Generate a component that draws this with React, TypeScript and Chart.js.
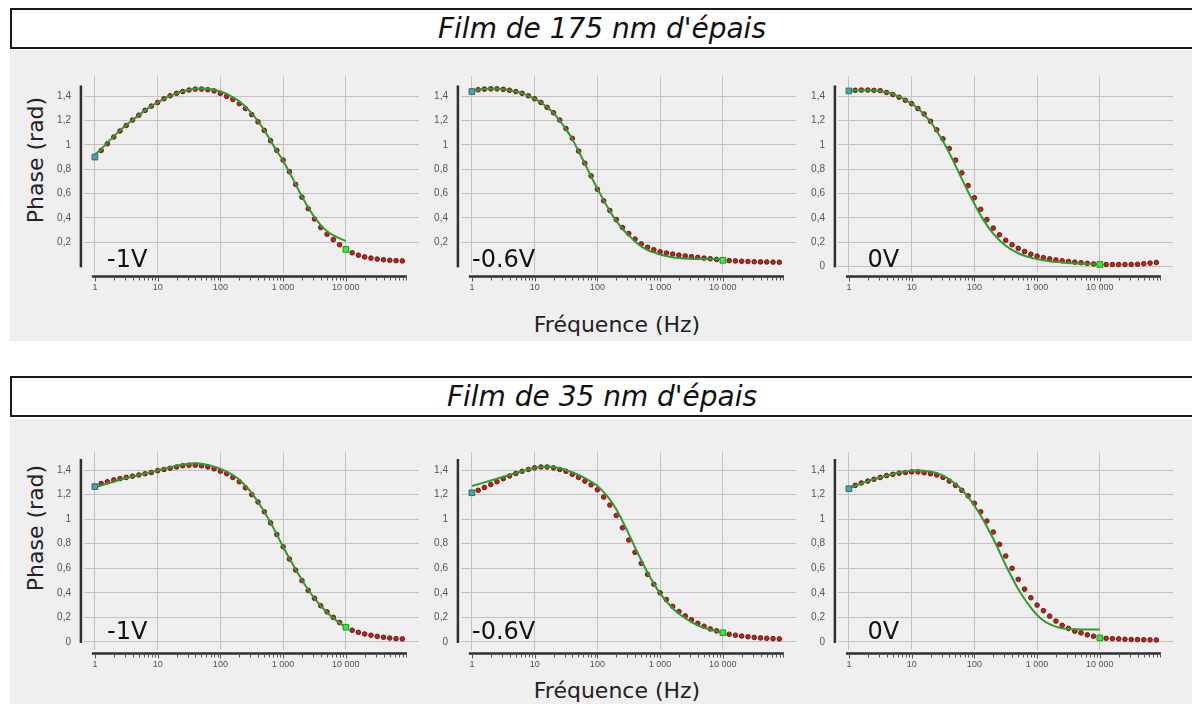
import React, { useEffect, useRef } from "react";
import { Chart, registerables } from "chart.js";

Chart.register(...registerables);

// ---------- data ----------
const FREQ_HZ = [
  1.26, 1.58, 2, 2.51, 3.16, 3.98, 5.01, 6.31, 7.94, 10,
  12.6, 15.8, 20, 25.1, 31.6, 39.8, 50.1, 63.1, 79.4, 100,
  126, 158, 200, 251, 316, 398, 501, 631, 794, 1000,
  1259, 1585, 1995, 2512, 3162, 3981, 5012, 6310, 7943, 10000,
  12589, 15849, 19953, 25119, 31623, 39811, 50119, 63096, 79433,
];

const FIT_FREQ_HZ = [
  1,
  1.26, 1.58, 2, 2.51, 3.16, 3.98, 5.01, 6.31, 7.94, 10,
  12.6, 15.8, 20, 25.1, 31.6, 39.8, 50.1, 63.1, 79.4, 100,
  126, 158, 200, 251, 316, 398, 501, 631, 794, 1000,
  1259, 1585, 1995, 2512, 3162, 3981, 5012, 6310, 7943, 10000,
];

const X_TICKS = [1, 10, 100, 1000, 10000];
const X_TICK_LABELS = ["1", "10", "100", "1 000", "10 000"];
const Y_TICKS = [0, 0.2, 0.4, 0.6, 0.8, 1, 1.2, 1.4];
const Y_TICK_LABELS = ["0", "0,2", "0,4", "0,6", "0,8", "1", "1,2", "1,4"];

const SECTION_TITLES = ["Film de 175 nm d'épais", "Film de 35 nm d'épais"];
const VOLTAGE_LABELS = ["-1V", "-0.6V", "0V"];
const Y_AXIS_TITLE = "Phase (rad)";
const X_AXIS_TITLE = "Fréquence (Hz)";

// 175 nm film – measured phase
const PHASE_175_M1V = [
  0.955, 1.01, 1.065, 1.115, 1.16, 1.205, 1.245, 1.285, 1.32, 1.35,
  1.38, 1.405, 1.425, 1.44, 1.452, 1.46, 1.46, 1.455, 1.445, 1.425,
  1.4, 1.375, 1.34, 1.3, 1.25, 1.19, 1.12, 1.035, 0.955, 0.875,
  0.78, 0.675, 0.57, 0.475, 0.39, 0.32, 0.265, 0.22, 0.178, 0.14,
  0.112, 0.092, 0.078, 0.068, 0.06, 0.055, 0.05, 0.047, 0.045,
];
const PHASE_175_M06V = [
  1.455, 1.46, 1.462, 1.462, 1.458, 1.45, 1.44, 1.425, 1.405, 1.38,
  1.35, 1.31, 1.265, 1.205, 1.135, 1.055, 0.95, 0.85, 0.745, 0.635,
  0.54, 0.46, 0.385, 0.32, 0.27, 0.225, 0.185, 0.157, 0.137, 0.12,
  0.11, 0.101, 0.093, 0.086, 0.08, 0.074, 0.068, 0.063, 0.057, 0.05,
  0.047, 0.045, 0.042, 0.04, 0.038, 0.037, 0.036, 0.035, 0.034,
];
const PHASE_175_0V = [
  1.45, 1.452, 1.452, 1.45, 1.447, 1.432, 1.415, 1.393, 1.368, 1.34,
  1.3, 1.255, 1.195, 1.125, 1.05, 0.97, 0.875, 0.77, 0.665, 0.565,
  0.47, 0.385, 0.315, 0.26, 0.215, 0.178, 0.148, 0.122, 0.1, 0.084,
  0.072, 0.062, 0.053, 0.046, 0.04, 0.035, 0.03, 0.025, 0.02, 0.016,
  0.015, 0.015, 0.015, 0.015, 0.016, 0.018, 0.022, 0.027, 0.032,
];

// 175 nm film – fitted phase
const FIT_175_M1V = [
  0.92,
  0.965, 1.02, 1.07, 1.12, 1.165, 1.205, 1.245, 1.285, 1.32, 1.35,
  1.38, 1.405, 1.425, 1.442, 1.455, 1.462, 1.465, 1.463, 1.455, 1.44,
  1.42, 1.393, 1.36, 1.315, 1.26, 1.195, 1.12, 1.035, 0.95, 0.87,
  0.775, 0.675, 0.575, 0.485, 0.405, 0.34, 0.29, 0.255, 0.23, 0.21,
];
const FIT_175_M06V = [
  1.445,
  1.455, 1.46, 1.462, 1.462, 1.458, 1.45, 1.44, 1.425, 1.405, 1.38,
  1.35, 1.31, 1.262, 1.2, 1.13, 1.048, 0.948, 0.845, 0.742, 0.64,
  0.545, 0.455, 0.375, 0.31, 0.255, 0.205, 0.165, 0.135, 0.115, 0.098,
  0.085, 0.075, 0.068, 0.064, 0.062, 0.06, 0.06, 0.06, 0.06, 0.06,
];
const FIT_175_0V = [
  1.448,
  1.45, 1.45, 1.45, 1.448, 1.442, 1.432, 1.418, 1.398, 1.372, 1.34,
  1.3, 1.25, 1.19, 1.115, 1.03, 0.935, 0.83, 0.72, 0.615, 0.515,
  0.42, 0.34, 0.27, 0.215, 0.17, 0.135, 0.108, 0.088, 0.072, 0.06,
  0.05, 0.043, 0.037, 0.032, 0.028, 0.025, 0.022, 0.02, 0.018, 0.016,
];

// 35 nm film – measured phase
const PHASE_35_M1V = [
  1.29, 1.305, 1.32, 1.33, 1.34, 1.35, 1.36, 1.37, 1.38, 1.395,
  1.405, 1.415, 1.425, 1.435, 1.44, 1.44, 1.435, 1.425, 1.41, 1.39,
  1.37, 1.34, 1.305, 1.255, 1.2, 1.14, 1.06, 0.97, 0.875, 0.775,
  0.675, 0.585, 0.5, 0.42, 0.355, 0.295, 0.245, 0.2, 0.158, 0.12,
  0.095, 0.078, 0.065, 0.055, 0.045, 0.038, 0.032, 0.027, 0.025,
];
const PHASE_35_M06V = [
  1.235, 1.258, 1.282, 1.305, 1.33, 1.352, 1.372, 1.39, 1.405, 1.418,
  1.425, 1.425, 1.418, 1.405, 1.39, 1.365, 1.34, 1.31, 1.28, 1.24,
  1.18, 1.115, 1.03, 0.93, 0.83, 0.73, 0.64, 0.55, 0.47, 0.4,
  0.345, 0.29, 0.248, 0.212, 0.18, 0.152, 0.128, 0.106, 0.09, 0.075,
  0.063, 0.055, 0.048, 0.042, 0.037, 0.033, 0.03, 0.027, 0.025,
];
const PHASE_35_0V = [
  1.275, 1.295, 1.31, 1.325, 1.34, 1.355, 1.365, 1.375, 1.38, 1.385,
  1.385, 1.378, 1.37, 1.36, 1.34, 1.31, 1.275, 1.235, 1.19, 1.13,
  1.06, 0.985, 0.895, 0.795, 0.7, 0.6, 0.51, 0.43, 0.36, 0.3,
  0.255, 0.21, 0.17, 0.135, 0.11, 0.088, 0.074, 0.058, 0.047, 0.035,
  0.03, 0.027, 0.025, 0.022, 0.02, 0.019, 0.018, 0.017, 0.016,
];

// 35 nm film – fitted phase
const FIT_35_M1V = [
  1.26,
  1.275, 1.29, 1.305, 1.32, 1.335, 1.348, 1.36, 1.372, 1.385, 1.397,
  1.41, 1.422, 1.435, 1.445, 1.452, 1.455, 1.452, 1.442, 1.428, 1.41,
  1.388, 1.36, 1.322, 1.272, 1.212, 1.14, 1.06, 0.97, 0.875, 0.775,
  0.68, 0.59, 0.505, 0.425, 0.355, 0.295, 0.24, 0.195, 0.155, 0.12,
];
const FIT_35_M06V = [
  1.27,
  1.285, 1.3, 1.315, 1.33, 1.345, 1.36, 1.375, 1.39, 1.405, 1.418,
  1.425, 1.428, 1.425, 1.415, 1.4, 1.38, 1.36, 1.335, 1.305, 1.27,
  1.22, 1.16, 1.08, 0.985, 0.88, 0.77, 0.665, 0.565, 0.475, 0.395,
  0.33, 0.275, 0.23, 0.195, 0.162, 0.135, 0.115, 0.1, 0.088, 0.075,
];
const FIT_35_0V = [
  1.25,
  1.27, 1.29, 1.31, 1.325, 1.34, 1.355, 1.368, 1.38, 1.39, 1.395,
  1.398, 1.395, 1.388, 1.375, 1.355, 1.325, 1.285, 1.24, 1.18, 1.11,
  1.03, 0.94, 0.84, 0.735, 0.625, 0.525, 0.43, 0.35, 0.28, 0.22,
  0.175, 0.145, 0.125, 0.112, 0.105, 0.103, 0.102, 0.102, 0.102, 0.102,
];

// cursor markers (at 1 Hz and 10 000 Hz)
const START_175 = [0.9, 1.44, 1.445];
const END_175 = [0.14, 0.05, 0.016];
const START_35 = [1.265, 1.215, 1.248];
const END_35 = [0.12, 0.075, 0.033];

// ---------- layout (pixels) ----------
const PANEL_X1 = [95, 472, 848.5]; // pixel of 1 Hz
const DECADE_PX = 63.3;
const AREA_LEFT = 11;
const AREA_RIGHT = 327;
const Y_SCALE_W = 45;
const CANVAS_W = Y_SCALE_W + AREA_LEFT + AREA_RIGHT + 2;
const ROWS = [
  { chartTop: 65, chartBottom: 273, zeroY: 266, unit: 128.2, labelY: 258 },
  { chartTop: 441, chartBottom: 650, zeroY: 641.5, unit: 129.6, labelY: 630 },
];
const LABEL_DX = [12, 0, 19];

const offsetAxesPlugin = {
  id: "offsetAxes",
  afterDraw(chart: any) {
    const { ctx, chartArea } = chart;
    const x = chart.scales.x;
    const y = chart.scales.y;
    const x1 = x.getPixelForValue(1);
    ctx.save();
    ctx.strokeStyle = "#2f2f2f";
    ctx.lineWidth = 2.5;
    const ax = x1 - 14;
    ctx.beginPath();
    ctx.moveTo(ax, y.getPixelForValue(1.49));
    ctx.lineTo(ax, y.getPixelForValue(0) + 1);
    ctx.stroke();
    const ay = chartArea.bottom + 3.5;
    ctx.beginPath();
    ctx.moveTo(x1 - 3, ay);
    ctx.lineTo(x.getPixelForValue(94000), ay);
    ctx.stroke();
    ctx.lineWidth = 1;
    ctx.strokeStyle = "#555";
    for (let d = 1; d <= 10000; d *= 10) {
      for (let m = 1; m <= 9; m++) {
        const v = d * m;
        if (v > 94000) break;
        const px = Math.round(x.getPixelForValue(v)) + 0.5;
        ctx.beginPath();
        ctx.moveTo(px, ay + 1);
        ctx.lineTo(px, ay + (m === 1 ? 5 : 4));
        ctx.stroke();
      }
    }
    ctx.restore();
  },
};

type PanelProps = {
  phase: number[];
  fit: number[];
  start: number;
  end: number;
  label: string;
  col: number;
  row: number;
  showZero: boolean;
};

function PhasePanel({ phase, fit, start, end, label, col, row, showZero }: PanelProps) {
  const ref = useRef<HTMLCanvasElement | null>(null);
  const g = ROWS[row];
  const x1 = PANEL_X1[col];
  const canvasTop = g.chartTop - 8;
  const canvasH = g.chartBottom - canvasTop + 30;

  useEffect(() => {
    const yMax = (g.zeroY - g.chartTop) / g.unit;
    const yMin = (g.zeroY - g.chartBottom) / g.unit;
    const xMin = Math.pow(10, -AREA_LEFT / DECADE_PX);
    const xMax = Math.pow(10, AREA_RIGHT / DECADE_PX);
    const yTicks = showZero ? Y_TICKS : Y_TICKS.filter((v) => v !== 0);
    const chart = new Chart(ref.current as HTMLCanvasElement, {
      type: "line",
      data: {
        datasets: [
          {
            label: "start",
            data: [{ x: 1, y: start }],
            showLine: false,
            pointStyle: "rect",
            pointRadius: 4,
            pointBackgroundColor: "#4ea3a9",
            pointBorderColor: "#2b6a72",
            pointBorderWidth: 1,
            order: 0,
          },
          {
            label: "end",
            data: [{ x: 10000, y: end }],
            showLine: false,
            pointStyle: "rect",
            pointRadius: 4,
            pointBackgroundColor: "#3be83b",
            pointBorderColor: "#1c9a1c",
            pointBorderWidth: 1,
            order: 0,
          },
          {
            label: "fit",
            data: FIT_FREQ_HZ.map((f, i) => ({ x: f, y: fit[i] })),
            borderColor: "#2f9a2f",
            borderWidth: 2,
            pointRadius: 0,
            cubicInterpolationMode: "monotone",
            fill: false,
            order: 1,
          },
          {
            label: "data",
            data: FREQ_HZ.map((f, i) => ({ x: f, y: phase[i] })),
            showLine: false,
            pointStyle: "circle",
            pointRadius: 2.3,
            pointBackgroundColor: "#c2221b",
            pointBorderColor: "#6a1a12",
            pointBorderWidth: 1,
            order: 2,
          },
        ],
      },
      options: {
        animation: false,
        responsive: false,
        maintainAspectRatio: false,
        devicePixelRatio: 1,
        events: [],
        layout: { padding: { top: 8, left: 0, right: 2, bottom: 0 } },
        plugins: { legend: { display: false }, tooltip: { enabled: false } },
        scales: {
          x: {
            type: "logarithmic",
            min: xMin,
            max: xMax,
            afterBuildTicks: (s: any) => {
              s.ticks = X_TICKS.map((v) => ({ value: v }));
            },
            afterFit: (s: any) => {
              s.height = 30;
            },
            ticks: {
              autoSkip: false,
              maxRotation: 0,
              padding: 9,
              color: "#555",
              font: { family: "'Liberation Sans', Arial, sans-serif", size: 9 },
              callback: (v: any) => {
                const i = X_TICKS.indexOf(Number(v));
                return i >= 0 ? X_TICK_LABELS[i] : "";
              },
            },
            grid: { color: "#c2c2c2", lineWidth: 1, drawTicks: false },
            border: { display: false },
          },
          y: {
            type: "linear",
            min: yMin,
            max: yMax,
            afterBuildTicks: (s: any) => {
              s.ticks = yTicks.map((v) => ({ value: v }));
            },
            afterFit: (s: any) => {
              s.width = Y_SCALE_W;
            },
            ticks: {
              autoSkip: false,
              padding: 13,
              color: "#555",
              font: { family: "'Liberation Sans', Arial, sans-serif", size: 10 },
              callback: (v: any) => {
                const i = Y_TICKS.findIndex((t) => Math.abs(t - Number(v)) < 1e-6);
                return i >= 0 ? Y_TICK_LABELS[i] : "";
              },
            },
            grid: { color: "#c2c2c2", lineWidth: 1, drawTicks: false },
            border: { display: false },
          },
        },
      } as any,
      plugins: [offsetAxesPlugin],
    });
    return () => chart.destroy();
  }, []);

  return (
    <>
      <canvas
        ref={ref}
        width={CANVAS_W}
        height={canvasH}
        style={{
          position: "absolute",
          left: x1 - AREA_LEFT - Y_SCALE_W,
          top: canvasTop,
          width: CANVAS_W,
          height: canvasH,
        }}
      />
      <div
        style={{
          position: "absolute",
          left: x1 + LABEL_DX[col],
          top: g.labelY - 11.5,
          fontFamily: "'DejaVu Sans', sans-serif",
          fontSize: 24,
          lineHeight: "24px",
          color: "#111",
          whiteSpace: "nowrap",
        }}
      >
        {label}
      </div>
    </>
  );
}

function Section({ row }: { row: number }) {
  const boxTop = row === 0 ? 8 : 376;
  const greyTop = row === 0 ? 50 : 419;
  const greyH = row === 0 ? 291 : 285;
  const phases = row === 0 ? [PHASE_175_M1V, PHASE_175_M06V, PHASE_175_0V] : [PHASE_35_M1V, PHASE_35_M06V, PHASE_35_0V];
  const fits = row === 0 ? [FIT_175_M1V, FIT_175_M06V, FIT_175_0V] : [FIT_35_M1V, FIT_35_M06V, FIT_35_0V];
  const starts = row === 0 ? START_175 : START_35;
  const ends = row === 0 ? END_175 : END_35;
  const zeros = row === 0 ? [false, false, true] : [true, true, true];
  const yTitleCenter = row === 0 ? 160 : 528;
  const xTitleCenter = row === 0 ? 324 : 690;
  return (
    <>
      <div
        style={{
          position: "absolute",
          left: 10,
          top: boxTop,
          width: 1184,
          height: 41,
          boxSizing: "border-box",
          border: "2px solid #1b1b1b",
          background: "#fff",
          display: "flex",
          alignItems: "center",
          justifyContent: "center",
          fontFamily: "'DejaVu Sans', sans-serif",
          fontStyle: "italic",
          fontSize: 28,
          color: "#111",
          whiteSpace: "nowrap",
        }}
      >
        {SECTION_TITLES[row]}
      </div>
      <div style={{ position: "absolute", left: 10, top: greyTop, width: 1182, height: greyH, background: "#efefef" }} />
      <div
        style={{
          position: "absolute",
          left: 35,
          top: yTitleCenter,
          transform: "translate(-50%, -50%) rotate(-90deg)",
          fontFamily: "'DejaVu Sans', sans-serif",
          fontSize: 22,
          color: "#222",
          whiteSpace: "nowrap",
        }}
      >
        {Y_AXIS_TITLE}
      </div>
      <div
        style={{
          position: "absolute",
          left: 617,
          top: xTitleCenter,
          transform: "translate(-50%, -50%)",
          fontFamily: "'DejaVu Sans', sans-serif",
          fontSize: 22,
          color: "#222",
          whiteSpace: "nowrap",
        }}
      >
        {X_AXIS_TITLE}
      </div>
      {[0, 1, 2].map((c) => (
        <PhasePanel
          key={c}
          phase={phases[c]}
          fit={fits[c]}
          start={starts[c]}
          end={ends[c]}
          label={VOLTAGE_LABELS[c]}
          col={c}
          row={row}
          showZero={zeros[c]}
        />
      ))}
    </>
  );
}

export default function App() {
  return (
    <div
      style={{
        position: "fixed",
        left: 0,
        top: 0,
        width: 1192,
        height: 704,
        overflow: "hidden",
        background: "#fff",
      }}
    >
      <Section row={0} />
      <Section row={1} />
    </div>
  );
}
